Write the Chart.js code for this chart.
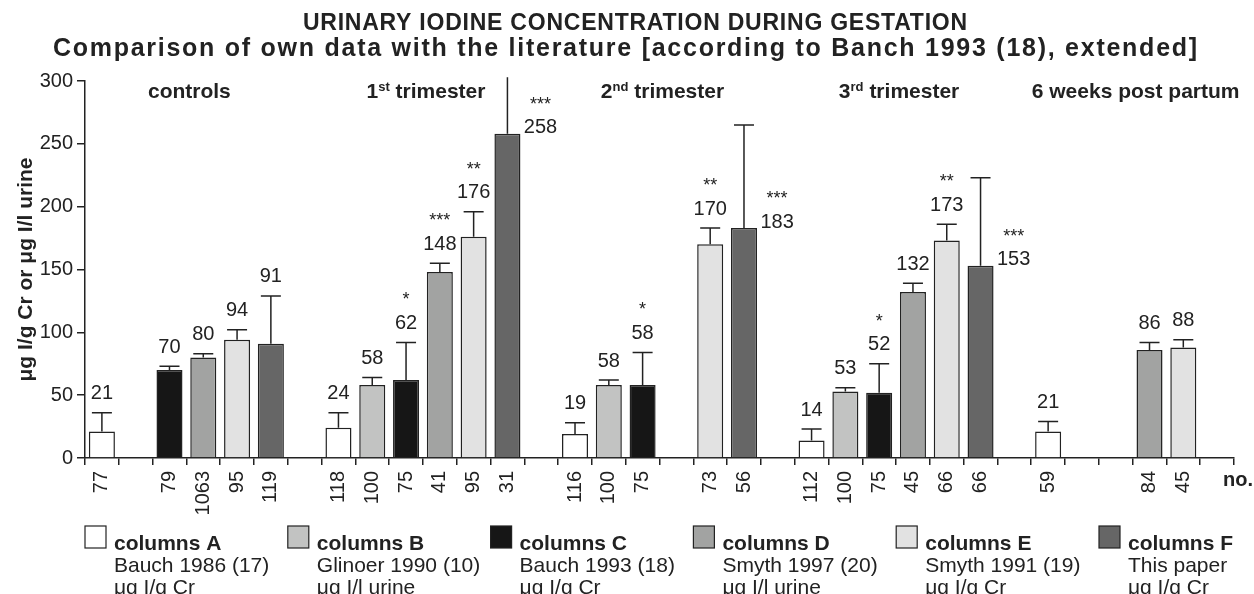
<!DOCTYPE html>
<html>
<head>
<meta charset="utf-8">
<script src="https://cdn.jsdelivr.net/npm/chart.js@4"></script>
<style>
  html, body { margin: 0; padding: 0; background: #fff; }
</style>
</head>
<body>
<canvas id="chart" width="1254" height="594"></canvas>
<script>
// one slot per column, '' / null = empty gap between groups
const slotLabels = ['77', '', '79', '1063', '95', '119', '', '118', '100', '75', '41', '95', '31', '',
  '116', '100', '75', '', '73', '56', '', '112', '100', '75', '45', '66', '66', '',
  '59', '', '', '84', '45', ''];
const means = [21, null, 70, 80, 94, 91, null, 24, 58, 62, 148, 176, 258, null,
  19, 58, 58, null, 170, 183, null, 14, 53, 52, 132, 173, 153, null,
  21, null, null, 86, 88, null];
const errHigh = [36, null, 73, 83, 102, 129, null, 36, 64, 92, 155, 196, 303, null,
  28, 62, 84, null, 183, 265, null, 23, 56, 75, 139, 186, 223, null,
  29, null, null, 92, 94, null];
const series = ['A', null, 'C', 'D', 'E', 'F', null, 'A', 'B', 'C', 'D', 'E', 'F', null,
  'A', 'B', 'C', null, 'E', 'F', null, 'A', 'B', 'C', 'D', 'E', 'F', null,
  'A', null, null, 'D', 'E', null];
const stars = ['', '', '', '', '', '', '', '', '', '*', '***', '**', '***', '',
  '', '', '*', '', '**', '***', '', '', '', '*', '', '**', '***', '',
  '', '', '', '', '', ''];

// group headers: [number, superscript, rest]
const groupNames = [['', '', 'controls'], ['1', 'st', ' trimester'], ['2', 'nd', ' trimester'],
  ['3', 'rd', ' trimester'], ['', '', '6 weeks post partum']];
const groupFirst = [0, 7, 14, 21, 28];
const groupLast = [5, 12, 19, 26, 33];

const legendKeys = ['A', 'B', 'C', 'D', 'E', 'F'];
const legendSources = ['Bauch 1986 (17)', 'Glinoer 1990 (10)', 'Bauch 1993 (18)',
  'Smyth 1997 (20)', 'Smyth 1991 (19)', 'This paper'];
const legendUnits = ['μg I/g Cr', 'μg I/l urine', 'μg I/g Cr', 'μg I/l urine', 'μg I/g Cr', 'μg I/g Cr'];

const seriesColors = { A: '#ffffff', B: '#c2c3c2', C: '#161616', D: '#a2a3a2', E: '#e2e2e2', F: '#666666' };

const FONT = "'Liberation Sans', Arial, Helvetica, sans-serif";
const INK = '#222';
Chart.defaults.font.family = FONT;
Chart.defaults.color = INK;

// draw a centred line of text spread out to a given width
function spreadText(ctx, text, cx, y, width) {
  ctx.letterSpacing = '0px';
  const w = ctx.measureText(text).width;
  const extra = Math.max(0, (width - w) / text.length);
  ctx.letterSpacing = extra.toFixed(2) + 'px';
  ctx.fillText(text, cx + extra / 2, y);
  ctx.letterSpacing = '0px';
}

const annotate = {
  id: 'annotate',
  afterDraw(chart) {
    const { ctx, scales: { x, y } } = chart;
    const slotW = x.getPixelForValue(1) - x.getPixelForValue(0);
    ctx.save();
    ctx.fillStyle = INK;
    ctx.strokeStyle = INK;

    // titles
    ctx.textAlign = 'center';
    ctx.textBaseline = 'alphabetic';
    ctx.font = 'bold 23px ' + FONT;
    spreadText(ctx, 'URINARY IODINE CONCENTRATION DURING GESTATION', 635, 30, 665);
    ctx.font = 'bold 25px ' + FONT;
    spreadText(ctx, 'Comparison of own data with the literature [according to Banch 1993 (18), extended]', 625, 56, 1146);

    // group headers
    groupNames.forEach((g, k) => {
      const cx = (x.getPixelForValue(groupFirst[k]) + x.getPixelForValue(groupLast[k])) / 2 + 3;
      ctx.font = 'bold 21px ' + FONT;
      const w1 = ctx.measureText(g[0]).width;
      const w3 = ctx.measureText(g[2]).width;
      ctx.font = 'bold 13px ' + FONT;
      const w2 = ctx.measureText(g[1]).width;
      let px = cx - (w1 + w2 + w3) / 2;
      ctx.textAlign = 'left';
      ctx.font = 'bold 21px ' + FONT;
      ctx.fillText(g[0], px, 98);
      px += w1;
      ctx.font = 'bold 13px ' + FONT;
      ctx.fillText(g[1], px, 91);
      px += w2;
      ctx.font = 'bold 21px ' + FONT;
      ctx.fillText(g[2], px, 98);
    });

    // error bars, value labels, stars
    ctx.lineWidth = 1.5;
    means.forEach((v, i) => {
      if (v === null) return;
      const cx = x.getPixelForValue(i);
      const yTop = y.getPixelForValue(v);
      const yErr = y.getPixelForValue(errHigh[i]);
      ctx.beginPath();
      ctx.moveTo(cx, yTop);
      ctx.lineTo(cx, yErr);
      if (errHigh[i] <= y.max) {
        ctx.moveTo(cx - 10, yErr);
        ctx.lineTo(cx + 10, yErr);
      }
      ctx.stroke();

      let lx = cx, ly = yErr - 19;
      if (errHigh[i] - v > 40 && means[i + 1] === null) {
        lx = cx + slotW * 0.98;
        ly = yTop - 6;
      }
      ctx.textAlign = 'center';
      ctx.textBaseline = 'middle';
      ctx.font = '20px ' + FONT;
      ctx.fillText(String(v), lx, ly);
      if (stars[i]) {
        ctx.font = '18px ' + FONT;
        ctx.fillText(stars[i], lx, ly - 23);
      }
    });

    // "no." at the end of the count row
    ctx.textAlign = 'right';
    ctx.textBaseline = 'alphabetic';
    ctx.font = 'bold 20px ' + FONT;
    ctx.fillText('no.', 1253, 486);

    // legend
    legendKeys.forEach((key, k) => {
      const sx = 85 + k * 202.8;
      ctx.fillStyle = seriesColors[key];
      ctx.fillRect(sx, 526, 21, 22);
      ctx.lineWidth = 1.2;
      ctx.strokeRect(sx, 526, 21, 22);
      ctx.fillStyle = INK;
      ctx.textAlign = 'left';
      ctx.font = 'bold 21px ' + FONT;
      ctx.fillText('columns ' + key, sx + 29, 550);
      ctx.font = '21px ' + FONT;
      ctx.fillText(legendSources[k], sx + 29, 572);
      ctx.fillText(legendUnits[k], sx + 29, 594);
    });
    ctx.restore();
  }
};

new Chart(document.getElementById('chart'), {
  type: 'bar',
  data: {
    labels: slotLabels,
    datasets: [{
      data: means,
      backgroundColor: series.map(s => s ? seriesColors[s] : 'rgba(0,0,0,0)'),
      borderColor: INK,
      borderWidth: 1.5,
      categoryPercentage: 1,
      barPercentage: 0.77
    }]
  },
  options: {
    responsive: false,
    animation: false,
    layout: { padding: { top: 81, right: 20, left: 0, bottom: 0 } },
    plugins: { legend: { display: false }, tooltip: { enabled: false } },
    scales: {
      x: {
        grid: { offset: true, drawOnChartArea: false, tickLength: 7, color: INK, lineWidth: 1.5 },
        border: { color: INK, width: 1.5 },
        ticks: { autoSkip: false, minRotation: 90, maxRotation: 90, padding: 6, font: { size: 20 } },
        afterFit: s => { s.height = 136; }
      },
      y: {
        min: 0,
        max: 300,
        ticks: { stepSize: 50, padding: 4, font: { size: 20 } },
        grid: { drawOnChartArea: false, tickLength: 8, color: INK, lineWidth: 1.5 },
        border: { color: INK, width: 1.5 },
        title: {
          display: true,
          text: 'μg I/g Cr or μg I/l urine',
          font: { size: 21, weight: 'bold' },
          padding: { top: 14, bottom: 0 }
        },
        afterFit: s => { s.width = 85; }
      }
    }
  },
  plugins: [annotate]
});
</script>
</body>
</html>
